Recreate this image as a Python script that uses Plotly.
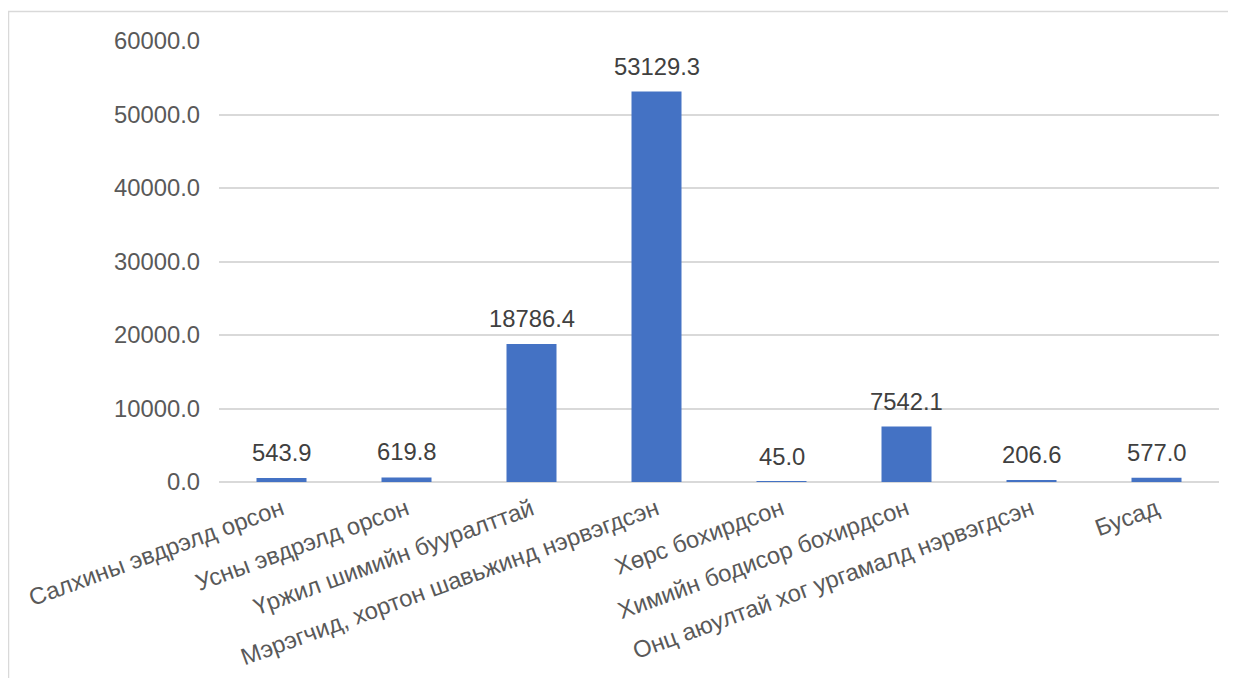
import plotly.graph_objects as go

categories = [
    "Салхины эвдрэлд орсон",
    "Усны эвдрэлд орсон",
    "Үржил шимийн бууралттай",
    "Мэрэгчид, хортон шавьжинд нэрвэгдсэн",
    "Хөрс бохирдсон",
    "Химийн бодисор бохирдсон",
    "Онц аюултай хог ургамалд нэрвэгдсэн",
    "Бусад",
]
values = [543.9, 619.8, 18786.4, 53129.3, 45.0, 7542.1, 206.6, 577.0]
y_ticks = [0, 10000, 20000, 30000, 40000, 50000, 60000]

FONT = "Liberation Sans, Arial, sans-serif"
TEXT_COLOR = "#595959"
GRID = "#D9D9D9"
FS = 23.8

fig = go.Figure()
fig.add_trace(go.Bar(
    x=categories,
    y=values,
    marker=dict(color="#4472C4", line=dict(width=0)),
    hoverinfo="x+y",
))

for c, v in zip(categories, values):
    fig.add_annotation(
        x=c, y=v, text=f"{v:.1f}", showarrow=False,
        yanchor="bottom", yshift=10,
        font=dict(family=FONT, size=FS, color="#404040"),
    )

fig.add_shape(
    type="rect", xref="paper", yref="paper",
    x0=-0.2105, x1=1.1, y0=-0.6, y1=1.0669,
    line=dict(color=GRID, width=1.5), fillcolor="rgba(0,0,0,0)", layer="below",
)

fig.update_layout(
    width=1236, height=678,
    margin=dict(l=211, r=25, t=33, b=204),
    paper_bgcolor="white", plot_bgcolor="white",
    bargap=0.6,
    showlegend=False,
    font=dict(family=FONT, size=FS, color=TEXT_COLOR),
)
fig.update_xaxes(
    tickangle=-20,
    automargin=False,
    tickfont=dict(family=FONT, size=FS, color=TEXT_COLOR),
    showgrid=False, showline=False, ticks="",
    ticklabelstandoff=8,
)
fig.update_yaxes(
    range=[0, 60000],
    automargin=False,
    tickvals=y_ticks,
    ticktext=[f"{t:.1f}" for t in y_ticks],
    tickfont=dict(family=FONT, size=FS, color=TEXT_COLOR),
    showgrid=True, gridcolor=GRID, gridwidth=1.5,
    zeroline=True, zerolinecolor=GRID, zerolinewidth=1.5,
    showline=False, ticks="",
    ticklabelstandoff=18,
)

fig.write_html("out.html")
